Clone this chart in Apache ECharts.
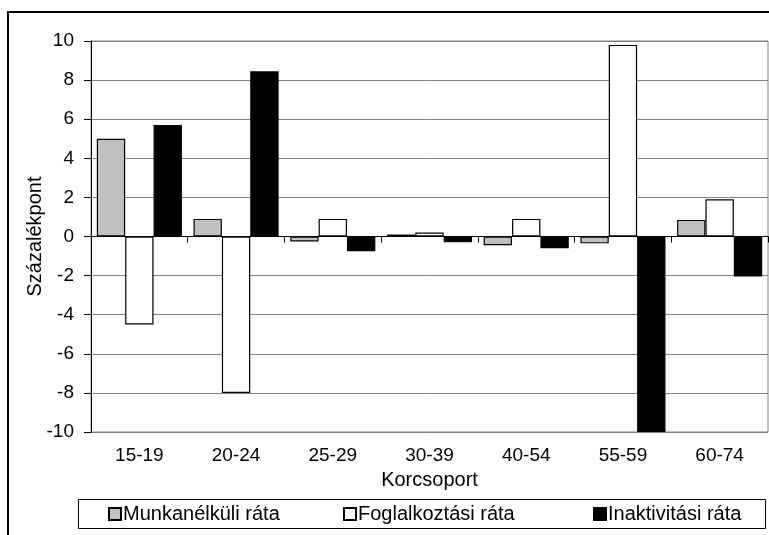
<!DOCTYPE html>
<html><head><meta charset="utf-8">
<script src="https://cdn.jsdelivr.net/npm/echarts@6/dist/echarts.min.js"></script>
<style>html,body{margin:0;padding:0;background:#fff}#c{width:769px;height:535px}</style>
</head><body><div id="c"></div>
<script>
const categories = ['15-19','20-24','25-29','30-39','40-54','55-59','60-74'];
const munkanelkuli = [5.0, 0.9, -0.25, 0.1, -0.45, -0.35, 0.85];
const foglalkoztasi = [-4.5, -8.0, 0.9, 0.2, 0.9, 9.8, 1.9];
const inaktivitasi = [5.7, 8.45, -0.75, -0.3, -0.6, -10, -2.05];
const seriesNames = ['Munkanélküli ráta','Foglalkoztási ráta','Inaktivitási ráta'];
const yTicks = {min: -10, max: 10, interval: 2};

const FONT = "'Liberation Sans', Arial, sans-serif";
const chart = echarts.init(document.getElementById('c'), null, {renderer: 'canvas'});
const barStyle = (fill) => ({color: fill, borderColor: '#000', borderWidth: 1.2});
const legendItem = (name, left) => ({
  data: [name], left: left, top: 504, padding: 0, itemWidth: 12, itemHeight: 12, itemGap: 0,
  icon: 'rect', textStyle: {fontFamily: FONT, fontSize: 20, color: '#000', padding: [0,0,0,-3]}
});
chart.setOption({
  animation: false,
  backgroundColor: '#fff',
  grid: {left: 91, top: 41, right: 1, bottom: 103, show: true, borderColor: '#808080', borderWidth: 1, backgroundColor: 'transparent'},
  graphic: [
    {type: 'rect', shape: {x: 8, y: 12, width: 800, height: 600}, style: {fill: 'none', stroke: '#000', lineWidth: 2}, silent: true},
    {type: 'rect', shape: {x: 78.5, y: 499.5, width: 687, height: 29}, style: {fill: 'none', stroke: '#000', lineWidth: 1}, silent: true}
  ],
  legend: [
    legendItem(seriesNames[0], 108),
    legendItem(seriesNames[1], 343),
    legendItem(seriesNames[2], 593)
  ],
  xAxis: [
    {type: 'category', data: categories, position: 'bottom',
     axisLine: {onZero: true, lineStyle: {color: '#000', width: 1}},
     axisTick: {show: true, length: 6, lineStyle: {color: '#000'}},
     axisLabel: {show: false}, splitLine: {show: false}},
    {type: 'category', data: categories, position: 'bottom',
     axisLine: {show: false, onZero: false}, axisTick: {show: false},
     axisLabel: {fontFamily: FONT, fontSize: 19, color: '#000', margin: 14},
     name: 'Korcsoport', nameLocation: 'middle', nameGap: 38, nameMoveOverlap: false,
     nameTextStyle: {fontFamily: FONT, fontSize: 20, color: '#000'}}
  ],
  yAxis: {
    type: 'value', min: yTicks.min, max: yTicks.max, interval: yTicks.interval,
    axisLine: {show: true, onZero: false, lineStyle: {color: '#000', width: 1}},
    axisTick: {show: true, length: 7, lineStyle: {color: '#000'}},
    axisLabel: {fontFamily: FONT, fontSize: 19, color: '#000', margin: 17},
    splitLine: {show: true, lineStyle: {color: '#808080', width: 1}},
    name: 'Százalékpont', nameLocation: 'middle', nameGap: 46, nameRotate: 90, nameMoveOverlap: false,
    nameTextStyle: {fontFamily: FONT, fontSize: 20, color: '#000'}
  },
  series: [
    {name: seriesNames[0], type: 'bar', xAxisIndex: 0, data: munkanelkuli, itemStyle: barStyle('#c0c0c0'), barGap: '0%', barCategoryGap: '12%'},
    {name: seriesNames[1], type: 'bar', xAxisIndex: 0, data: foglalkoztasi, itemStyle: barStyle('#ffffff'), barGap: '0%', barCategoryGap: '12%'},
    {name: seriesNames[2], type: 'bar', xAxisIndex: 0, data: inaktivitasi, itemStyle: barStyle('#000000'), barGap: '0%', barCategoryGap: '12%'}
  ]
});
</script></body></html>
